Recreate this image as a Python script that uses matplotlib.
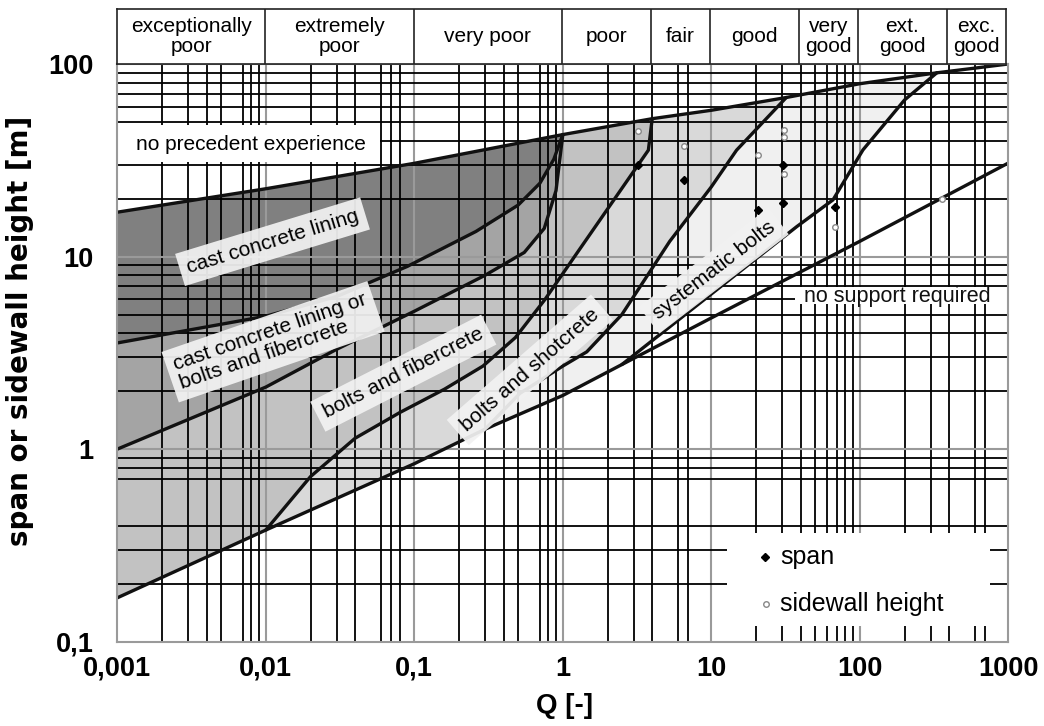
import matplotlib
matplotlib.use("Agg")
import matplotlib.pyplot as plt
from matplotlib.patches import Rectangle

plt.rcParams['font.family'] = ['Liberation Sans', 'DejaVu Sans']

# ---------------- data ----------------
BAND_EDGES = [0.001, 0.01, 0.1, 1, 4, 10, 40, 100, 400, 1000]
BAND_LABELS = ["exceptionally\npoor", "extremely\npoor", "very poor", "poor", "fair",
               "good", "very\ngood", "ext.\ngood", "exc.\ngood"]

X_TICKS = [0.001, 0.01, 0.1, 1, 10, 100, 1000]
X_TICK_LABELS = ["0,001", "0,01", "0,1", "1", "10", "100", "1000"]
Y_TICKS = [0.1, 1, 10, 100]
Y_TICK_LABELS = ["0,1", "1", "10", "100"]

VGRID_BLACK = [0.002, 0.003, 0.004, 0.005, 0.007, 0.008, 0.009,
               0.02, 0.03, 0.04, 0.06, 0.07, 0.08,
               0.2, 0.3, 0.4, 0.5, 0.7, 0.8, 0.9,
               2, 3, 4, 6, 7,
               20, 30, 40, 50, 60, 70, 80, 90,
               200, 300, 400, 600, 700]
VGRID_GRAY = [0.01, 0.1, 1, 10, 100]
HGRID_BLACK = [0.2, 0.3, 0.4, 0.7, 0.8, 0.9, 2, 3, 4, 5, 6, 7, 8, 9,
               20, 30, 40, 50, 60, 70, 80, 90]
HGRID_GRAY = [1, 10]

# boundary curves (Q, span)
TOP_Q = [0.001, 0.01, 0.1, 1, 4, 10, 32, 100, 330, 1000]
TOP_H = [17, 22.5, 30.5, 43, 52, 57.5, 67, 79, 90, 100]
B_Q = [0.001, 0.01, 0.1, 0.3, 1, 2.5, 10, 100, 1000]
B_H = [0.169, 0.38, 0.84, 1.27, 1.9, 2.75, 4.8, 12, 30.6]
L2_Q = [0.001, 0.01, 0.03, 0.09, 0.26, 0.5, 0.7, 0.87, 1]
L2_H = [3.56, 4.9, 6.2, 8.9, 13.5, 18.5, 24, 32, 43]
L3_Q = [0.001, 0.01, 0.03, 0.1, 0.3, 0.55, 0.75, 0.9, 1]
L3_H = [1.0, 2.1, 3.3, 5.2, 8.0, 10.5, 14, 22, 43]
L4_Q = [0.01, 0.02, 0.04, 0.08, 0.16, 0.29, 0.48, 0.76, 1.2, 1.78, 3.77, 4]
L4_H = [0.38, 0.72, 1.14, 1.55, 2.05, 2.7, 3.8, 6.0, 10, 15.5, 35.7, 52]
L5_Q = [0.3, 0.515, 1.0, 1.45, 2.5, 5.25, 10, 14.8, 32]
L5_H = [1.27, 1.95, 2.7, 3.2, 5.0, 12, 23, 35.7, 67]
LC_Q = [2.5, 37.6, 66, 105, 200, 330]
LC_H = [2.75, 14.3, 19.7, 35.8, 65, 90]

# case data
SPAN_Q = [3.2, 6.5, 20.5, 30.5, 30.5, 68]
SPAN_H = [30, 25, 17.5, 30, 19, 18]
WALL_Q = [3.2, 6.5, 20.5, 31, 31, 31, 68, 356]
WALL_H = [45, 37.5, 33.7, 45.5, 42, 27, 14.2, 20]

FILL_COLORS = ["#808080", "#a4a4a4", "#c2c2c2", "#d9d9d9", "#f0f0f0"]


def seg(qs, hs, qa, qb):
    pts = [(q, h) for q, h in zip(qs, hs) if qa <= q <= qb]
    return [p[0] for p in pts], [p[1] for p in pts]


def rev(xy):
    return xy[0][::-1], xy[1][::-1]


def poly(*parts):
    xs, ys = [], []
    for p in parts:
        xs += list(p[0])
        ys += list(p[1])
    return xs, ys


fig = plt.figure(figsize=(10.44, 7.26), dpi=100)
L, R = 117.3 / 1044, 1008.3 / 1044
B, T = 1 - 641.7 / 726, 1 - 64 / 726
ax = fig.add_axes([L, B, R - L, T - B])
hax = fig.add_axes([L, T, (1006 - 117.3) / 1044, (64 - 9.3) / 726])

ax.set_xscale('log')
ax.set_yscale('log')
ax.set_xlim(0.001, 1000)
ax.set_ylim(0.1, 100)

# ---- regions ----
regions = [
    poly(seg(TOP_Q, TOP_H, 0.001, 1), rev((L2_Q, L2_H))),
    poly((L2_Q, L2_H), rev((L3_Q, L3_H))),
    poly((L3_Q, L3_H), seg(TOP_Q, TOP_H, 1.01, 4), rev((L4_Q, L4_H)),
         rev(seg(B_Q, B_H, 0.001, 0.01))),
    poly((L4_Q, L4_H), seg(TOP_Q, TOP_H, 4.01, 32), rev((L5_Q, L5_H)),
         rev(seg(B_Q, B_H, 0.0101, 0.3))),
    poly((L5_Q, L5_H), seg(TOP_Q, TOP_H, 32.1, 330), rev((LC_Q, LC_H)),
         rev(seg(B_Q, B_H, 0.301, 2.5))),
]
for (xs, ys), c in zip(regions, FILL_COLORS):
    ax.fill(xs, ys, color=c, lw=0, zorder=1)

# ---- grid ----
for q in VGRID_BLACK:
    ax.axvline(q, color='black', lw=1.3, zorder=2)
for q in VGRID_GRAY:
    ax.axvline(q, color='#9a9a9a', lw=1.5, zorder=2)
for h in HGRID_BLACK:
    ax.axhline(h, color='black', lw=1.3, zorder=2)
for h in HGRID_GRAY:
    ax.axhline(h, color='#9a9a9a', lw=1.5, zorder=2)

# ---- curves ----
for qs, hs in [(TOP_Q, TOP_H), (B_Q, B_H), (L2_Q, L2_H), (L3_Q, L3_H),
               (L4_Q, L4_H), (L5_Q, L5_H), (LC_Q, LC_H)]:
    ax.plot(qs, hs, color='#111111', lw=2.4, zorder=3, solid_capstyle='round',
            solid_joinstyle='round')

# ---- white boxes ----
for (x0, y0, w, h) in [(0.0, 0.830, 0.295, 0.064),
                       (0.7606, 0.5846, 0.2394, 0.030),
                       (0.684, 0.027, 0.2955, 0.161)]:
    ax.add_patch(Rectangle((x0, y0), w, h, transform=ax.transAxes,
                           facecolor='white', edgecolor='none', zorder=4))

ax.text(0.00797, 38.4, "no precedent experience", fontsize=15, ha='center',
        va='center', zorder=5)
ax.text(178, 6.17, "no support required", fontsize=15.5, ha='center',
        va='center', zorder=5, color='#111111')

box = dict(boxstyle='square,pad=0.35', fc='#f2f2f2', ec='none', alpha=0.93)
for txt, q, h, ang in [("cast concrete lining", 0.0111, 11.95, 17),
                       ("cast concrete lining or\nbolts and fibercrete", 0.0112, 3.61, 19),
                       ("bolts and fibercrete", 0.0843, 2.48, 27),
                       ("bolts and shotcrete", 0.6, 2.58, 41),
                       ("systematic bolts", 10.4, 8.45, 37.5)]:
    ax.text(q, h, txt, fontsize=15, rotation=ang, rotation_mode='anchor',
            ha='center', va='center', multialignment='left', bbox=box,
            zorder=5, linespacing=1.05)

# ---- data points ----
ax.plot(SPAN_Q, SPAN_H, linestyle='none', marker='D', ms=4, color='black', zorder=6)
ax.plot(WALL_Q, WALL_H, linestyle='none', marker='o', ms=4, mfc='white',
        mec='#888888', mew=1, zorder=6)

# ---- legend ----
ax.plot([0.7265], [0.146], transform=ax.transAxes, marker='D', ms=4,
        color='black', zorder=6)
ax.text(0.744, 0.146, "span", transform=ax.transAxes, fontsize=18,
        va='center', ha='left', zorder=6)
ax.plot([0.7275], [0.066], transform=ax.transAxes, marker='o', ms=4,
        mfc='white', mec='#888888', zorder=6)
ax.text(0.744, 0.066, "sidewall height", transform=ax.transAxes, fontsize=18,
        va='center', ha='left', zorder=6)

# ---- axes styling ----
for s in ax.spines.values():
    s.set_color('#9a9a9a')
    s.set_linewidth(1.5)
    s.set_zorder(7)
ax.set_xticks(X_TICKS)
ax.set_xticklabels(X_TICK_LABELS)
ax.set_yticks(Y_TICKS)
ax.set_yticklabels(Y_TICK_LABELS)
ax.minorticks_off()
ax.tick_params(length=0, labelsize=19.5)
ax.tick_params(axis='x', pad=10)
ax.tick_params(axis='y', pad=17)
for lab in ax.get_xticklabels() + ax.get_yticklabels():
    lab.set_fontweight('bold')

fig.text(565 / 1044, 1 - 706 / 726, "Q [-]", fontsize=20, fontweight='bold',
         ha='center', va='center')
fig.text(20 / 1044, 1 - 331 / 726, "span or sidewall height [m]", fontsize=20,
         fontweight='bold', family=['DejaVu Sans'], rotation=90,
         ha='center', va='center')

# ---- header ----
hax.set_xscale('log')
hax.set_xlim(0.001, 1000)
hax.set_ylim(0, 1)
for e in BAND_EDGES[1:-1]:
    hax.axvline(e, color='#222222', lw=1.2)
for i, lab in enumerate(BAND_LABELS):
    xc = (BAND_EDGES[i] * BAND_EDGES[i + 1]) ** 0.5
    hax.text(xc, 0.5, lab, ha='center', va='center', fontsize=15,
             linespacing=1.05)
hax.set_xticks([])
hax.set_yticks([])
hax.minorticks_off()
for s in hax.spines.values():
    s.set_color('#222222')
    s.set_linewidth(1.2)

fig.savefig("out.png", dpi=100)
